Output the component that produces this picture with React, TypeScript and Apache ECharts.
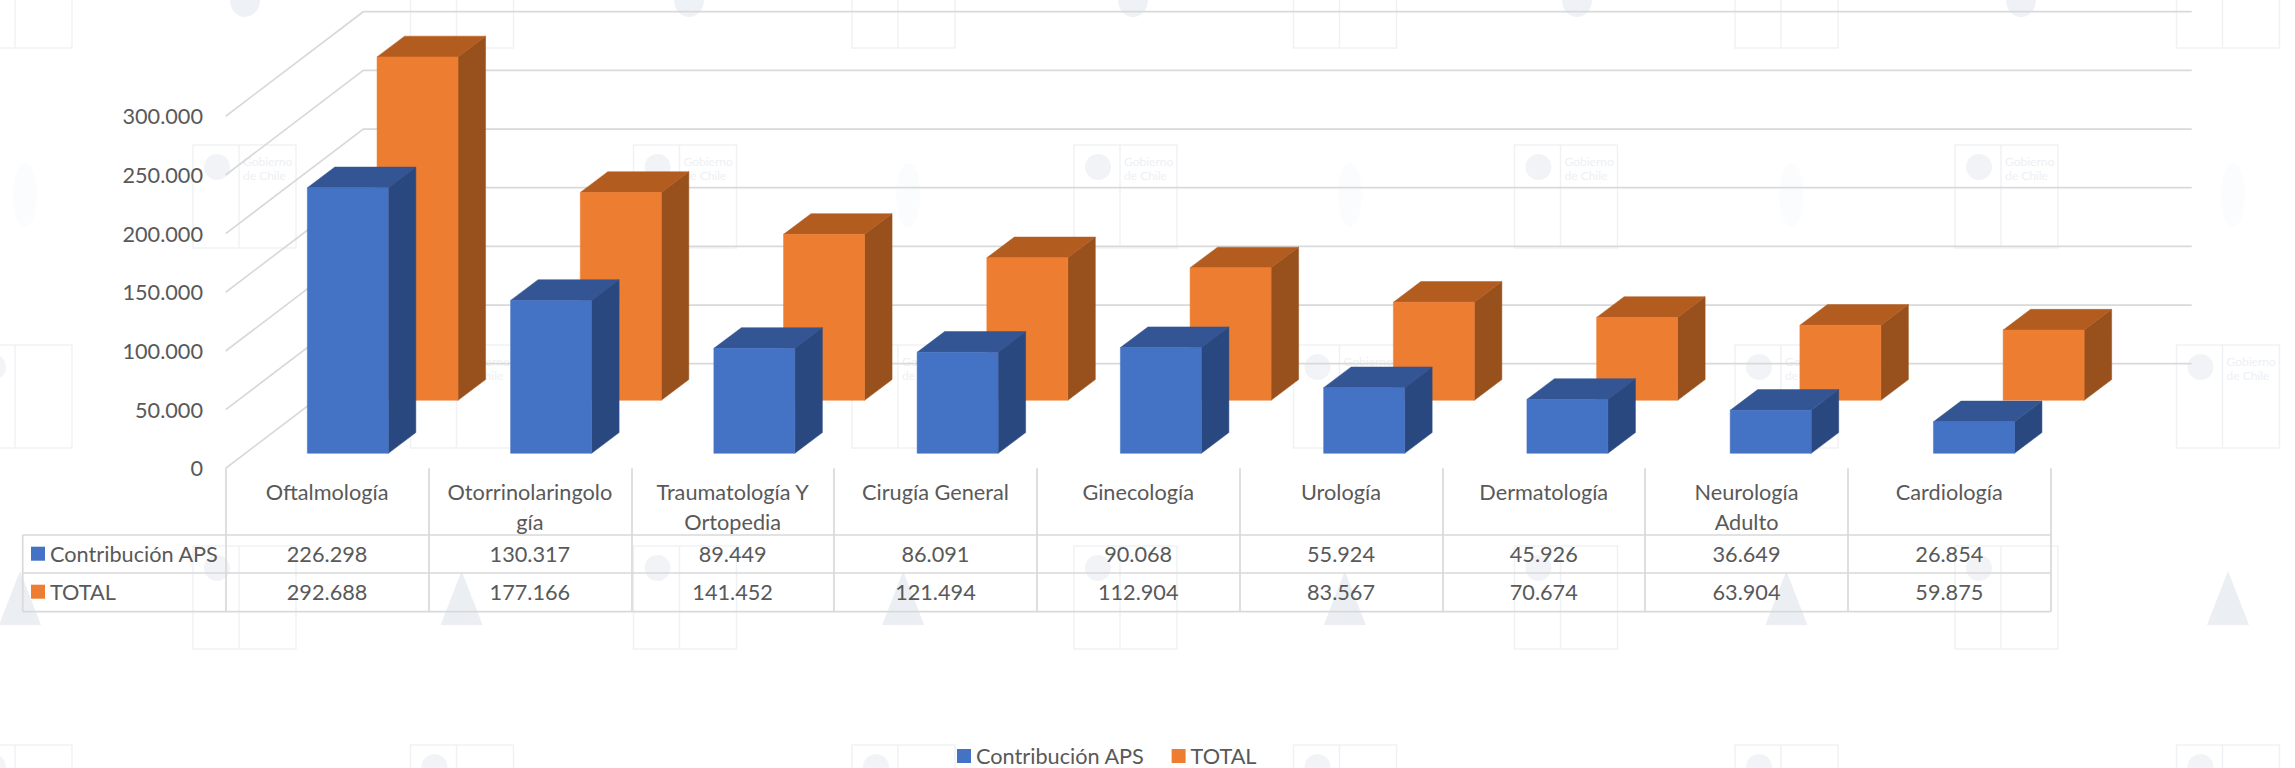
import React, { useEffect, useRef } from "react";
import * as echarts from "echarts";

const categories = [
  "Oftalmología",
  "Otorrinolaringolo\ngía",
  "Traumatología Y\nOrtopedia",
  "Cirugía General",
  "Ginecología",
  "Urología",
  "Dermatología",
  "Neurología\nAdulto",
  "Cardiología",
];
const contribucionAPS = [226298, 130317, 89449, 86091, 90068, 55924, 45926, 36649, 26854];
const total = [292688, 177166, 141452, 121494, 112904, 83567, 70674, 63904, 59875];
const yTicks = [0, 50000, 100000, 150000, 200000, 250000, 300000];
const seriesNames = ["Contribución APS", "TOTAL"];

const FONT = "Lato";
const TEXT = "#595959";
const LINE = "#D9D9D9";
const FS = 21.7;

const fmt = (v: number) => String(v).replace(/\B(?=(\d{3})+(?!\d))/g, ".");

const GRID = { left: 225.7, right: 2050.7, top: 116.3, bottom: 468.3 };
const WALL = { dx: 137.6, dy: 104.6, rightEnd: 2191.7 };

function barRenderer(offX: number, offY: number, front: string, top: string, side: string) {
  return (params: any, api: any) => {
    const i = api.value(0);
    const v = api.value(1);
    const c = api.coord([i, v]);
    const base = api.coord([i, 0]);
    const cs = params.coordSys;
    const w = 81;
    const dx = 27.5;
    const dy = 20.7;
    const cx = c[0] + (c[0] - cs.x) * 0.0024 + offX;
    const l = cx - w / 2;
    const r = l + w;
    const yT = c[1] - offY;
    const yB = base[1] - offY;
    const poly = (pts: number[][], fill: string) => ({
      type: "polygon",
      shape: { points: pts },
      style: { fill, stroke: fill, lineWidth: 0.5 },
      silent: true,
    });
    return {
      type: "group",
      children: [
        poly([[r, yT], [r + dx, yT - dy], [r + dx, yB - dy], [r, yB]], side),
        poly([[l, yT], [l + dx, yT - dy], [r + dx, yT - dy], [r, yT]], top),
        poly([[l, yT], [r, yT], [r, yB], [l, yB]], front),
      ],
    };
  };
}

function watermark() {
  const els: any[] = [];
  const C = "#EFF2F5";
  const box = (x: number, y: number, withText: boolean) => {
    els.push({ type: "rect", z: 0, silent: true, shape: { x, y, width: 103, height: 103 }, style: { fill: "none", stroke: C, lineWidth: 1.5 } });
    els.push({ type: "line", z: 0, silent: true, shape: { x1: x + 46, y1: y, x2: x + 46, y2: y + 103 }, style: { stroke: C, lineWidth: 1.5 } });
    els.push({ type: "ellipse", z: 0, silent: true, shape: { cx: x + 24, cy: y + 22, rx: 13, ry: 13 }, style: { fill: "#F1F3F6" } });
    if (withText) {
      els.push({ type: "text", z: 0, silent: true, x: x + 50, y: y + 9, style: { text: "Gobierno\nde Chile", fill: "#EDF0F4", fontSize: 12, lineHeight: 14, fontFamily: FONT } });
    }
  };
  for (let k = 0; k < 5; k++) {
    const x = 193 + 440.5 * k;
    box(x, 145, true);
    box(x, 546, false);
  }
  for (let k = 0; k < 6; k++) {
    const x = -31 + 441.5 * k;
    box(x, -55, false);
    box(x, 345, x > 0);
    box(x, 745, false);
  }
  for (let k = 0; k < 6; k++) {
    const x = 20 + 441.6 * k;
    els.push({
      type: "polygon", z: 0, silent: true,
      shape: { points: [[x, 571], [x + 21, 625], [x - 21, 625]] },
      style: { fill: "#EBEFF3" },
    });
    els.push({ type: "ellipse", z: 0, silent: true, shape: { cx: 25 + 441.6 * k, cy: 195, rx: 12, ry: 32 }, style: { fill: "#FBFCFD" } });
  }
  for (let k = 0; k < 5; k++) {
    const x = 245 + 444 * k;
    els.push({ type: "ellipse", z: 0, silent: true, shape: { cx: x, cy: 0, rx: 15, ry: 17 }, style: { fill: "#EEF1F6" } });
  }
  return els;
}

export default function App() {
  const ref = useRef<HTMLDivElement>(null);
  useEffect(() => {
    const chart = echarts.init(ref.current!, null, { renderer: "svg" });
    const option: any = {
      animation: false,
      backgroundColor: "#FFFFFF",
      color: ["#4472C4", "#ED7D31"],
      grid: {
        left: GRID.left,
        right: 2295 - GRID.right,
        top: GRID.top,
        height: GRID.bottom - GRID.top,
        containLabel: false,
      },
      legend: {
        data: seriesNames,
        left: 957,
        top: 745,
        padding: 0,
        icon: "rect",
        itemWidth: 14,
        itemHeight: 14,
        itemGap: 27,
        selectedMode: false,
        textStyle: { color: TEXT, fontFamily: FONT, fontSize: FS },
      },
      graphic: { elements: watermark() },
      xAxis: {
        type: "category",
        data: categories,
        axisLine: { show: false },
        axisTick: { show: true, length: 143.4, lineStyle: { color: LINE, width: 1.7 } },
        axisLabel: {
          interval: 0,
          margin: 8.4,
          color: TEXT,
          fontFamily: FONT,
          fontSize: FS,
          lineHeight: 30,
          align: "center",
        },
      },
      yAxis: {
        type: "value",
        min: 0,
        max: 300000,
        interval: 50000,
        splitLine: { show: false },
        axisLine: { show: false },
        axisTick: { show: false },
        axisLabel: {
          margin: 22.7,
          color: TEXT,
          fontFamily: FONT,
          fontSize: FS,
          formatter: (v: number) => fmt(v),
        },
      },
      series: [
        {
          type: "custom",
          name: "grid3d",
          z: 1,
          silent: true,
          data: yTicks.map((v) => [0, v]),
          renderItem: (params: any, api: any) => {
            const y = api.coord([0, api.value(1)])[1];
            const x = params.coordSys.x;
            return {
              type: "polyline",
              shape: { points: [[x, y], [x + WALL.dx, y - WALL.dy], [WALL.rightEnd, y - WALL.dy]] },
              style: { stroke: LINE, lineWidth: 1.7, fill: "none" },
              silent: true,
            };
          },
        },
        {
          type: "custom",
          name: seriesNames[1],
          z: 3,
          silent: true,
          itemStyle: { color: "#ED7D31" },
          data: total.map((v, i) => [i, v]),
          renderItem: barRenderer(90.2, 68, "#ED7D31", "#B35C20", "#98501C"),
        },
        {
          type: "custom",
          name: seriesNames[0],
          z: 4,
          silent: true,
          itemStyle: { color: "#4472C4" },
          data: contribucionAPS.map((v, i) => [i, v]),
          renderItem: barRenderer(20.5, 15, "#4472C4", "#335593", "#2A4880"),
        },
        {
          type: "custom",
          name: "tablaMarco",
          z: 5,
          silent: true,
          data: [[0, 0]],
          renderItem: (params: any) => {
            const cs = params.coordSys;
            const x0 = 22.7;
            const x1 = cs.x + cs.width;
            const ln = (a: number, b: number, c: number, d: number) => ({
              type: "line",
              shape: { x1: a, y1: b, x2: c, y2: d },
              style: { stroke: LINE, lineWidth: 1.7 },
              silent: true,
            });
            const label = (text: string, y: number, color: string) => [
              { type: "rect", shape: { x: 31, y: y - 7, width: 14, height: 14 }, style: { fill: color }, silent: true },
              {
                type: "text",
                silent: true,
                style: { text, x: 50, y, fill: TEXT, fontFamily: FONT, fontSize: FS, align: "left", verticalAlign: "middle" },
              },
            ];
            return {
              type: "group",
              children: [
                ln(x0, 535, x1, 535),
                ln(x0, 573, x1, 573),
                ln(x0, 611.7, x1, 611.7),
                ln(x0, 535, x0, 611.7),
                ...label(seriesNames[0], 553.7, "#4472C4"),
                ...label(seriesNames[1], 591.7, "#ED7D31"),
              ],
            };
          },
        },
        ...[
          { name: "tablaAPS", values: contribucionAPS, y: 553.7 },
          { name: "tablaTOTAL", values: total, y: 591.7 },
        ].map((row) => ({
          type: "custom",
          name: row.name,
          z: 5,
          silent: true,
          data: row.values.map((v, i) => [i, v]),
          renderItem: (_p: any, api: any) => ({
            type: "text",
            silent: true,
            style: {
              text: fmt(api.value(1)),
              x: api.coord([api.value(0), 0])[0],
              y: row.y,
              fill: TEXT,
              fontFamily: FONT,
              fontSize: FS,
              align: "center",
              verticalAlign: "middle",
            },
          }),
        })),
      ],
    };
    chart.setOption(option);
    return () => chart.dispose();
  }, []);
  return (
    <div
      ref={ref}
      style={{ position: "absolute", left: 0, top: 0, width: 2295, height: 768 }}
    />
  );
}
